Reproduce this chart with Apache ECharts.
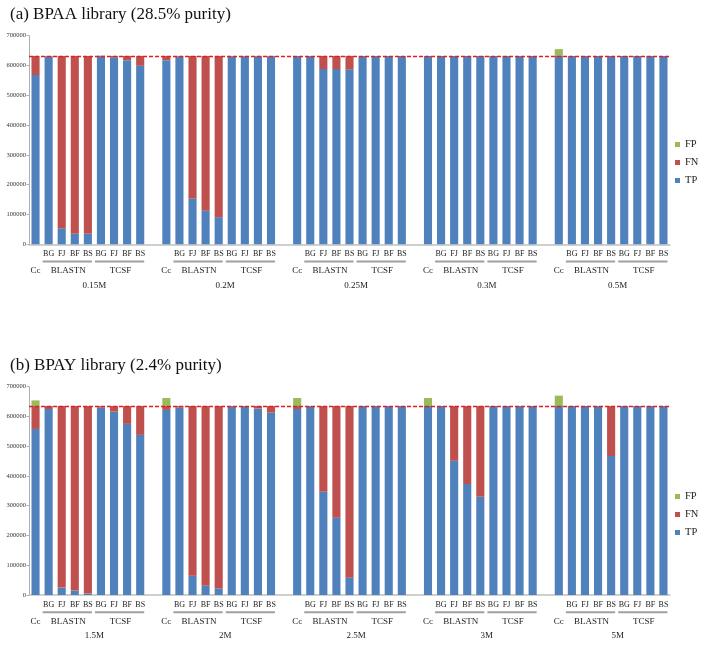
<!DOCTYPE html>
<html>
<head>
<meta charset="utf-8">
<script src="https://cdn.jsdelivr.net/npm/echarts@6/dist/echarts.min.js"></script>
<style>
html,body{margin:0;padding:0;background:#fff;}
#chart{width:709px;height:646px;}
</style>
</head>
<body>
<div id="chart"></div>
<script>
// ---------- data ----------
const slotLabels = ['Cc','BG','FJ','BF','BS','BG','FJ','BF','BS'];
const groupsA = ['0.15M','0.2M','0.25M','0.3M','0.5M'];
const groupsB = ['1.5M','2M','2.5M','3M','5M'];
const yMax = 700000;
const yStep = 100000;
const totalA = 632000;
const totalB = 635000;

// panel (a) BPAA library
const tpA = [
  [568000, 630000, 54000, 35000, 35000, 633000, 628000, 618000, 599000],
  [618000, 630000, 154000, 113000, 91000, 631000, 631000, 631000, 631000],
  [632000, 632000, 588000, 588000, 587000, 632000, 632000, 632000, 632000],
  [632000, 632000, 632000, 632000, 632000, 632000, 632000, 632000, 632000],
  [632000, 632000, 632000, 632000, 632000, 632000, 632000, 632000, 632000]
];
const fnA = [
  [64000, 2000, 578000, 597000, 597000, 0, 4000, 14000, 33000],
  [14000, 2000, 478000, 519000, 541000, 1000, 1000, 1000, 1000],
  [0, 0, 44000, 44000, 45000, 0, 0, 0, 0],
  [0, 0, 0, 0, 0, 0, 0, 0, 0],
  [0, 0, 0, 0, 0, 0, 0, 0, 0]
];
const fpA = [
  [0, 0, 0, 0, 0, 0, 0, 0, 0],
  [0, 0, 0, 0, 0, 0, 0, 0, 0],
  [0, 0, 0, 0, 0, 0, 0, 0, 0],
  [0, 0, 0, 0, 0, 0, 0, 0, 0],
  [23000, 0, 0, 0, 0, 0, 0, 0, 0]
];

// panel (b) BPAY library
const tpB = [
  [558000, 625000, 25000, 15000, 5000, 630000, 616000, 575000, 538000],
  [622000, 630000, 65000, 31000, 22000, 632000, 632000, 627000, 613000],
  [625000, 635000, 347000, 260000, 58000, 635000, 635000, 635000, 635000],
  [635000, 635000, 451000, 373000, 330000, 635000, 635000, 635000, 635000],
  [635000, 635000, 635000, 635000, 467000, 635000, 635000, 635000, 635000]
];
const fnB = [
  [77000, 10000, 610000, 620000, 630000, 5000, 19000, 60000, 97000],
  [13000, 5000, 570000, 604000, 613000, 3000, 3000, 8000, 22000],
  [10000, 0, 288000, 375000, 577000, 0, 0, 0, 0],
  [0, 0, 184000, 262000, 305000, 0, 0, 0, 0],
  [0, 0, 0, 0, 168000, 0, 0, 0, 0]
];
const fpB = [
  [19000, 0, 0, 0, 0, 0, 0, 0, 0],
  [27000, 0, 0, 0, 0, 0, 0, 0, 0],
  [27000, 0, 0, 0, 0, 0, 0, 0, 0],
  [27000, 0, 0, 0, 0, 0, 0, 0, 0],
  [35000, 0, 0, 0, 0, 0, 0, 0, 0]
];

// ---------- helpers ----------
const FONT = "'Liberation Serif','Times New Roman',serif";
const C_TP = '#4F81BD', C_FN = '#C0504D', C_FP = '#9BBB59';

function buildCategories(n) {
  const cats = [];
  for (let g = 0; g < n; g++) {
    for (let s = 0; s < slotLabels.length; s++) cats.push(g + '-' + s);
    if (g < n - 1) cats.push(g + '-gap');
  }
  return cats;
}
function flatten(arr) {
  const out = [];
  arr.forEach((grp, g) => {
    grp.forEach(v => out.push(v === 0 ? '-' : v));
    if (g < arr.length - 1) out.push('-');
  });
  return out;
}
function labelItems(groups) {
  const items = [];
  const per = slotLabels.length + 1;
  groups.forEach((name, gi) => {
    const b = gi * per;
    items.push({ s: b, e: b, text: 'Cc', row: 2 });
    items.push({ s: b + 1, e: b + 4, text: 'BLASTN', row: 2, line: true });
    items.push({ s: b + 5, e: b + 8, text: 'TCSF', row: 2, line: true });
    items.push({ s: b + 1, e: b + 8, text: name, row: 3 });
  });
  return items;
}

const catsA = buildCategories(groupsA.length);
const catsB = buildCategories(groupsB.length);
const itemsA = labelItems(groupsA);
const itemsB = labelItems(groupsB);

function makeRender(items) {
  return function (params, api) {
    const it = items[params.dataIndex];
    const p1 = api.coord([it.s, 0]);
    const p2 = api.coord([it.e, 0]);
    const cx = (p1[0] + p2[0]) / 2;
    const y0 = p1[1];
    const children = [];
    children.push({
      type: 'text',
      style: {
        text: it.text, x: cx, y: y0 + (it.row === 2 ? 26.5 : 41),
        align: 'center', verticalAlign: 'middle',
        fontSize: 9, fontFamily: FONT, fill: '#222'
      }
    });
    if (it.line) {
      children.push({
        type: 'line',
        shape: { x1: p1[0] - 6, y1: y0 + 17.2, x2: p2[0] + 4, y2: y0 + 17.2 },
        style: { stroke: '#a0a0a0', lineWidth: 2 }
      });
    }
    return { type: 'group', children: children };
  };
}

function xAxisCfg(cats, gi) {
  return {
    type: 'category', gridIndex: gi, data: cats,
    axisLine: { show: true, lineStyle: { color: '#c0c0c0', width: 1.5 } },
    axisTick: { show: false },
    axisLabel: {
      interval: 0, margin: 6, fontSize: 8, fontFamily: FONT, color: '#222',
      formatter: function (v) {
        const s = v.split('-')[1];
        if (s === 'gap' || s === '0') return '';
        return slotLabels[+s];
      }
    }
  };
}
function yAxisCfg(gi) {
  return {
    type: 'value', gridIndex: gi, min: 0, max: yMax, interval: yStep,
    splitLine: { show: false },
    axisLine: { show: true, lineStyle: { color: '#b0b0b0', width: 1 } },
    axisTick: { show: true, length: 2.5, lineStyle: { color: '#b0b0b0' } },
    axisLabel: { fontSize: 6.5, fontFamily: FONT, color: '#333', margin: 3,
      formatter: v => String(v) }
  };
}
function barSeries(name, data, color, gi, stack, total) {
  const s = {
    name: name, type: 'bar', xAxisIndex: gi, yAxisIndex: gi, stack: stack,
    data: data, barWidth: '62%', itemStyle: { color: color },
    silent: true
  };
  if (total) {
    s.markLine = {
      silent: true, symbol: 'none', label: { show: false },
      lineStyle: { color: '#e02020', type: [4, 2], width: 1.3 },
      data: [{ yAxis: total }]
    };
  }
  return s;
}
function legendCfg(top) {
  return {
    data: ['FP', 'FN', 'TP'], orient: 'vertical', left: 675, top: top, padding: 0,
    icon: 'rect', itemWidth: 5, itemHeight: 5, itemGap: 7,
    textStyle: { fontSize: 10.5, fontFamily: FONT, color: '#222' },
    selectedMode: false
  };
}

const option = {
  animation: false,
  backgroundColor: '#fff',
  title: [
    { text: '(a) BPAA library (28.5% purity)', left: 10, top: 6, padding: 0,
      textStyle: { fontFamily: FONT, fontSize: 17, fontWeight: 'normal', color: '#111' } },
    { text: '(b) BPAY library (2.4% purity)', left: 10, top: 357, padding: 0,
      textStyle: { fontFamily: FONT, fontSize: 17, fontWeight: 'normal', color: '#111' } }
  ],
  legend: [legendCfg(139), legendCfg(491)],
  grid: [
    { left: 29, right: 39, top: 35.7, height: 208.6 },
    { left: 29, right: 39, top: 386.7, height: 208.3 }
  ],
  xAxis: [xAxisCfg(catsA, 0), xAxisCfg(catsB, 1)],
  yAxis: [yAxisCfg(0), yAxisCfg(1)],
  series: [
    barSeries('TP', flatten(tpA), C_TP, 0, 'a', totalA),
    barSeries('FN', flatten(fnA), C_FN, 0, 'a'),
    barSeries('FP', flatten(fpA), C_FP, 0, 'a'),
    barSeries('TP', flatten(tpB), C_TP, 1, 'b', totalB),
    barSeries('FN', flatten(fnB), C_FN, 1, 'b'),
    barSeries('FP', flatten(fpB), C_FP, 1, 'b'),
    {
      type: 'custom', xAxisIndex: 0, yAxisIndex: 0, silent: true, clip: false, z: 10,
      data: itemsA.map(it => [it.s, 0]), encode: { x: 0, y: 1 },
      renderItem: makeRender(itemsA)
    },
    {
      type: 'custom', xAxisIndex: 1, yAxisIndex: 1, silent: true, clip: false, z: 10,
      data: itemsB.map(it => [it.s, 0]), encode: { x: 0, y: 1 },
      renderItem: makeRender(itemsB)
    }
  ]
};

const chart = echarts.init(document.getElementById('chart'), null, { renderer: 'canvas' });
chart.setOption(option);
</script>
</body>
</html>
